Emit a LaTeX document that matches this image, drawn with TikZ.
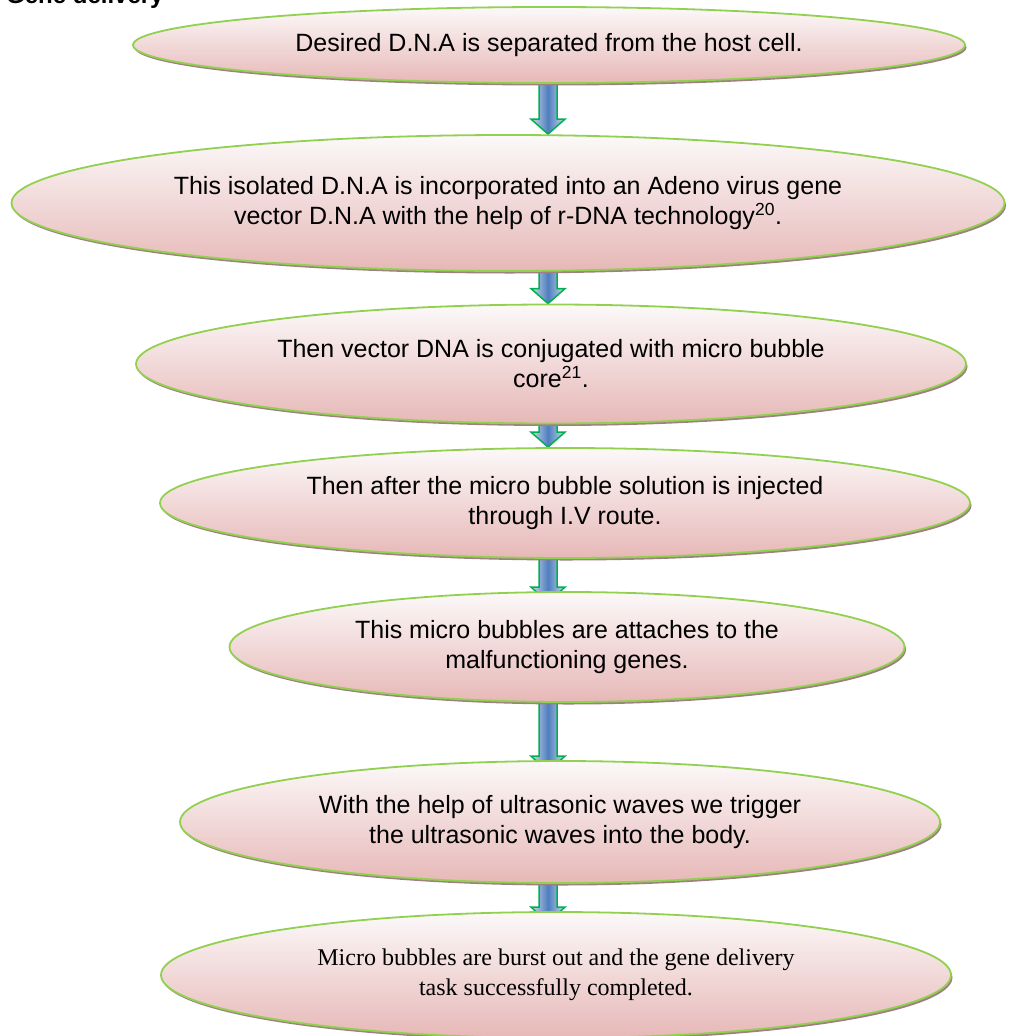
\documentclass[tikz,border=0pt]{standalone}
\usepackage{fontspec}
\setmainfont{Liberation Sans}
\newfontfamily\timesfont{Liberation Serif}
\usetikzlibrary{shapes.geometric, calc, backgrounds, shadows}
\definecolor{color_edge}{RGB}{146,208,80}
\definecolor{color_top}{RGB}{252,249,249}
\definecolor{color_bottom}{RGB}{230,184,183}
\definecolor{color_shadow}{RGB}{158,128,129}
\definecolor{color_line}{RGB}{0,176,80}
\definecolor{color_blue}{RGB}{79,126,190}
\definecolor{color_pale}{RGB}{205,218,238}

\tikzset{
  bubble/.style={ellipse, draw=color_edge, line width=1.8pt,
    top color=color_top, bottom color=color_bottom,
    inner sep=0pt, align=center, font=\fontsize{25}{30}\selectfont,
    general shadow={fill=color_shadow, shadow xshift=1.5pt, shadow yshift=-2.5pt}},
  downarrow/.style={draw=color_line, line width=1.5pt, line join=miter,
    left color=color_pale, right color=color_pale, middle color=color_blue},
  heading/.style={font=\bfseries\fontsize{24}{28}\selectfont, inner sep=0pt}
}

% block arrow: from node, to node, depth hidden under the next bubble
\newcommand{\flowarrow}[3]{%
  \path[downarrow] let \p1=(#1.south -| ax), \p2=(#2.north -| ax) in
    (\x1-9pt,\y1+2pt) -- (\x1+9pt,\y1+2pt) -- (\x1+9pt,\y2-#3pt+15pt)
    -- (\x1+17pt,\y2-#3pt+15pt) -- (\x1,\y2-#3pt)
    -- (\x1-17pt,\y2-#3pt+15pt) -- (\x1-9pt,\y2-#3pt+15pt) -- cycle;}

\begin{document}
\begin{tikzpicture}[x=1pt, y=-1pt]
\useasboundingbox (0,0) rectangle (1010,1036);
\node[heading, anchor=base west] (title) at (6,4) {Gene delivery};
\coordinate (ax) at (548,0);
% STEPS
\node[bubble, minimum width=832pt, minimum height=76pt] (isolate) at (549,45)
  {Desired D.N.A is separated from the host cell.};
\node[bubble, minimum width=993pt, minimum height=136pt] (insert) at (508,203)
  {This isolated D.N.A is incorporated into an Adeno virus gene\\
   vector D.N.A with the help of r-DNA technology$^{\mathrm{20}}$.};
\node[bubble, minimum width=830pt, minimum height=119pt] (conjugate) at (551,364)
  {Then vector DNA is conjugated with micro bubble\\ core$^{\mathrm{21}}$.};
\node[bubble, minimum width=810pt, minimum height=110pt] (inject) at (565,503)
  {Then after the micro bubble solution is injected\\ through I.V route.};
\node[bubble, minimum width=675pt, minimum height=110pt] (attach) at (567,647)
  {This micro bubbles are attaches to the\\ malfunctioning genes.};
\node[bubble, minimum width=760pt, minimum height=122pt] (trigger) at (560,822)
  {With the help of ultrasonic waves we trigger\\ the ultrasonic waves into the body.};
\node[bubble, minimum width=790pt, minimum height=126pt,
  font=\timesfont\fontsize{24}{30}\selectfont] (burst) at (556,975)
  {Micro bubbles are burst out and the gene delivery\\ task successfully completed.};
% ARROWS
\begin{scope}[on background layer]
\flowarrow{isolate}{insert}{0}
\flowarrow{insert}{conjugate}{0}
\flowarrow{conjugate}{inject}{0}
\flowarrow{inject}{attach}{11}
\flowarrow{attach}{trigger}{11}
\flowarrow{trigger}{burst}{11}
\end{scope}
\end{tikzpicture}
\end{document}
